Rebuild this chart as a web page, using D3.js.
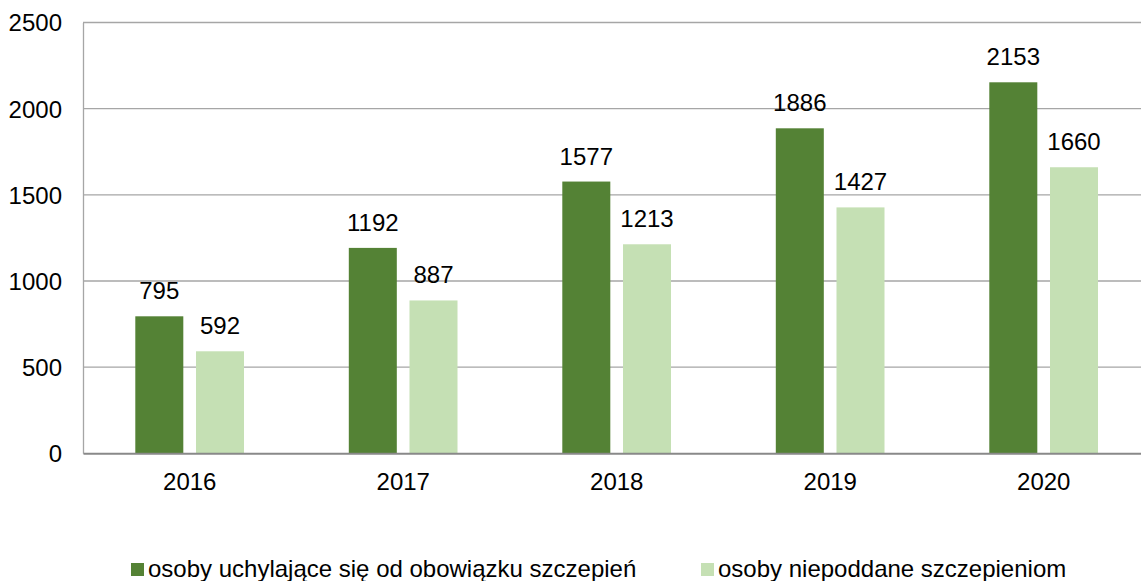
<!DOCTYPE html>
<html>
<head>
<meta charset="utf-8">
<script src="https://cdn.jsdelivr.net/npm/d3@7"></script>
<style>
	html, body { margin: 0; padding: 0; background: #fff; }
	text { font-family: "Liberation Sans", Arial, sans-serif; fill: #000; }
</style>
</head>
<body>
<svg id="chart" width="1141" height="581"></svg>
<script>
const years = ["2016", "2017", "2018", "2019", "2020"]
const uchylajace = [795, 1192, 1577, 1886, 2153]
const niepoddane = [592, 887, 1213, 1427, 1660]
const seriesNames = ["osoby uchylające się od obowiązku szczepień", "osoby niepoddane szczepieniom"]
const colors = ["#548235", "#C5E0B4"]
const yTicks = [0, 500, 1000, 1500, 2000, 2500]

const svg = d3.select("#chart")
const plotLeft = 83, plotRight = 1150.5, plotTop = 22.5, plotBottom = 453.3
const fontSize = "24px"

const x = d3.scaleBand().domain(years).range([plotLeft, plotRight])
const inner = d3.scaleBand().domain([0, 1]).range([52.3, 213.5 - 52.5]).paddingInner(0.209)
const y = d3.scaleLinear().domain([0, 2500]).range([plotBottom, plotTop])

// grid
svg.append("g")
	.selectAll("line")
	.data(yTicks.filter(d => d > 0))
	.enter().append("line")
		.attr("x1", plotLeft).attr("x2", plotRight)
		.attr("y1", d => y(d)).attr("y2", d => y(d))
		.attr("stroke", "#a6a6a6").attr("stroke-width", 1.3)

// y axis
const yAxis = svg.append("g")
	.attr("transform", `translate(${plotLeft},0)`)
	.call(d3.axisLeft(y).tickValues(yTicks).tickFormat(d3.format("d")).tickSize(0).tickPadding(21))
yAxis.select(".domain").attr("stroke", "#a6a6a6").attr("stroke-width", 1.3)
yAxis.selectAll("text").style("font-size", fontSize).attr("dy", "0.35em")

const series = [uchylajace, niepoddane]
series.forEach((vals, s) => {
	const g = svg.append("g")
	g.selectAll("rect")
		.data(vals)
		.enter().append("rect")
			.attr("x", (d, i) => x(years[i]) + inner(s))
			.attr("y", d => y(d))
			.attr("width", inner.bandwidth())
			.attr("height", d => plotBottom - y(d))
			.attr("fill", colors[s])
	g.selectAll("text")
		.data(vals)
		.enter().append("text")
			.attr("x", (d, i) => x(years[i]) + inner(s) + inner.bandwidth() / 2)
			.attr("y", d => y(d) - 17)
			.attr("text-anchor", "middle")
			.style("font-size", fontSize)
			.text(d => d)
})

// x axis
const xAxis = svg.append("g")
	.attr("transform", `translate(0,${plotBottom})`)
	.call(d3.axisBottom(x).tickSize(0).tickPadding(20))
xAxis.select(".domain").attr("stroke", "#898989").attr("stroke-width", 2)
xAxis.selectAll("text").style("font-size", fontSize)

// legend
const legendX = [131, 701]
const legend = svg.append("g")
seriesNames.forEach((name, i) => {
	legend.append("rect")
		.attr("x", legendX[i]).attr("y", 563)
		.attr("width", 13).attr("height", 13)
		.attr("fill", colors[i])
	legend.append("text")
		.attr("x", legendX[i] + 17).attr("y", 577)
		.style("font-size", fontSize)
		.text(name)
})
</script>
</body>
</html>
